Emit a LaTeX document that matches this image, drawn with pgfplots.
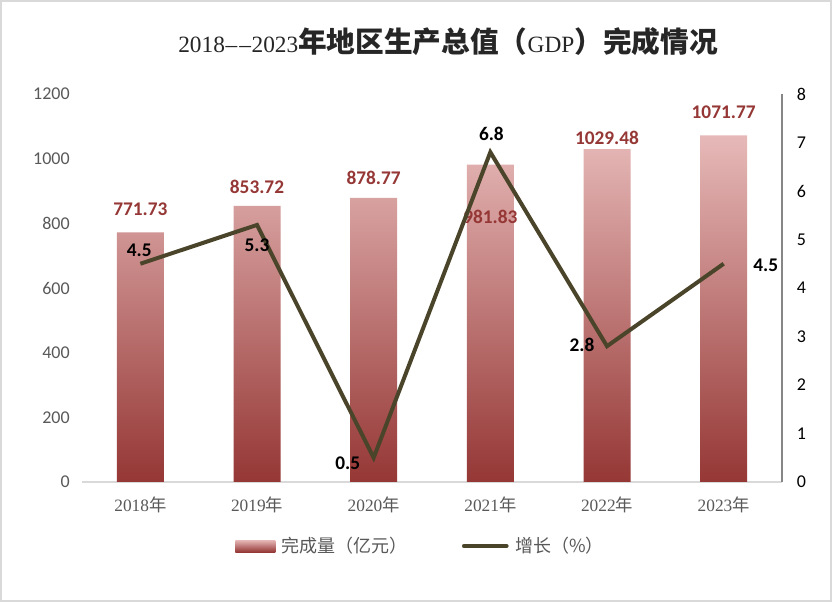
\documentclass[border=0pt]{standalone}
\usepackage{pgfplots}
\pgfplotsset{compat=1.18}
\usepackage{fontspec}
\setmainfont{Carlito}
\newfontfamily\cjk{Noto Sans CJK SC}
\newfontfamily\serif{Liberation Serif}
\definecolor{barTop}{HTML}{E6B9B8}
\definecolor{barBot}{HTML}{953735}
\definecolor{lineC}{HTML}{4A452A}
\definecolor{txtGray}{HTML}{595959}
\definecolor{labRed}{HTML}{953735}
\definecolor{baseGray}{HTML}{D9D9D9}
\definecolor{axGray}{HTML}{868686}
\begin{document}
\begin{tikzpicture}
\useasboundingbox (0pt,0pt) rectangle (624pt,451.5pt);
\fill[white] (0pt,0pt) rectangle (624pt,451.5pt);
\draw[color=baseGray, line width=1.5pt] (0.75pt,0.75pt) rectangle (623.25pt,450.75pt);
\node[anchor=center, text=black!85] at (336pt,420pt) {\serif\fontsize{17.5}{20}\selectfont 2018\kern0.5pt\textendash\kern1.5pt\textendash\kern0.5pt 2023{\cjk\bfseries\fontsize{21.5}{24}\selectfont 年地区生产总值（}GDP{\cjk\bfseries\fontsize{21.5}{24}\selectfont ）完成情况}};
\begin{axis}[
  at={(61.5pt,90pt)}, anchor=south west,
  scale only axis, width=525pt, height=291pt,
  xmin=-0.5, xmax=5.5, ymin=0, ymax=1200,
  xtick={0,...,5},
  xticklabels={{\serif 2018\cjk 年},{\serif 2019\cjk 年},{\serif 2020\cjk 年},{\serif 2021\cjk 年},{\serif 2022\cjk 年},{\serif 2023\cjk 年}},
  ytick={0,200,...,1200},
  axis x line*=bottom, axis y line*=left,
  x axis line style={draw=baseGray, line width=1.2pt, -},
  y axis line style={draw=none},
  major tick length=0pt, tick style={draw=none},
  /pgf/number format/assume math mode=true,
  /pgf/number format/1000 sep={},
  xticklabel style={anchor=center, inner sep=0pt, yshift=-17pt, text=txtGray, font=\fontsize{13}{15}\selectfont},
  yticklabel style={anchor=east, inner sep=0pt, xshift=-9pt, text=txtGray, font=\fontsize{13.5}{15}\selectfont},
  clip=false,
]
\addplot[ybar, bar width=35.25pt, draw=none, top color=barTop, bottom color=barBot,
  nodes near coords, point meta=explicit symbolic,
  visualization depends on={\thisrow{dy} \as \myDY},
  every node near coord/.append style={anchor=center, yshift=\myDY pt, inner sep=0pt, font=\bfseries\fontsize{14.5}{16}\selectfont, text=labRed}]
  table[x=x, y=y, meta=lab] {
x y lab dy
0 771.73 771.73 17.6
1 853.72 853.72 14.2
2 878.77 878.77 15
3 981.83 981.83 -39.4
4 1029.48 1029.48 8.2
5 1071.77 1071.77 17.3
};
\end{axis}
\begin{axis}[
  at={(61.5pt,90pt)}, anchor=south west,
  scale only axis, width=525pt, height=291pt,
  xmin=-0.5, xmax=5.5, ymin=0, ymax=8,
  axis y line*=right, axis x line=none,
  y axis line style={draw=axGray, line width=1.2pt, -},
  ytick={0,1,...,8}, major tick length=0pt, tick style={draw=none},
  /pgf/number format/assume math mode=true,
  yticklabel style={anchor=west, inner sep=0pt, xshift=11pt, text=black, font=\fontsize{13.5}{15}\selectfont},
  clip=false,
  legend columns=2,
  legend style={at={(0.487,-0.165)}, anchor=center, draw=none, fill=none,
    font=\cjk\fontsize{13.5}{15}\selectfont, text=txtGray,
    nodes={inner xsep=5pt},
    /tikz/every even column/.append style={column sep=35.5pt}},
  legend cell align=left,
]
\addlegendimage{draw=none, legend image code/.code={\path[draw=none, top color=barTop, bottom color=barBot] (0pt,-4.5pt) rectangle (30pt,4.5pt);}}
\addlegendentry{完成量（亿元）}
\addplot[lineC, line width=3pt, mark=none,
  legend image code/.code={\draw[lineC, line width=3pt, line cap=round] (0pt,0pt) -- (32pt,0pt);},
  nodes near coords, point meta=explicit symbolic,
  visualization depends on={\thisrow{dx} \as \myDX},
  visualization depends on={\thisrow{dy} \as \myDY},
  every node near coord/.append style={anchor=center, xshift=\myDX pt, yshift=\myDY pt, inner sep=0pt, font=\bfseries\fontsize{14.5}{16}\selectfont, text=black}]
  table[x=x, y=y, meta=lab] {
x y lab dx dy
0 4.5 4.5 -0.8 9.8
1 5.3 5.3 0 -15
2 0.5 0.5 -19.5 -3.8
3 6.8 6.8 0.8 13.5
4 2.8 2.8 -18.8 0.8
5 4.5 4.5 31.5 -0.8
};
\addlegendentry{增长（\%）}
\end{axis}
\end{tikzpicture}
\end{document}
